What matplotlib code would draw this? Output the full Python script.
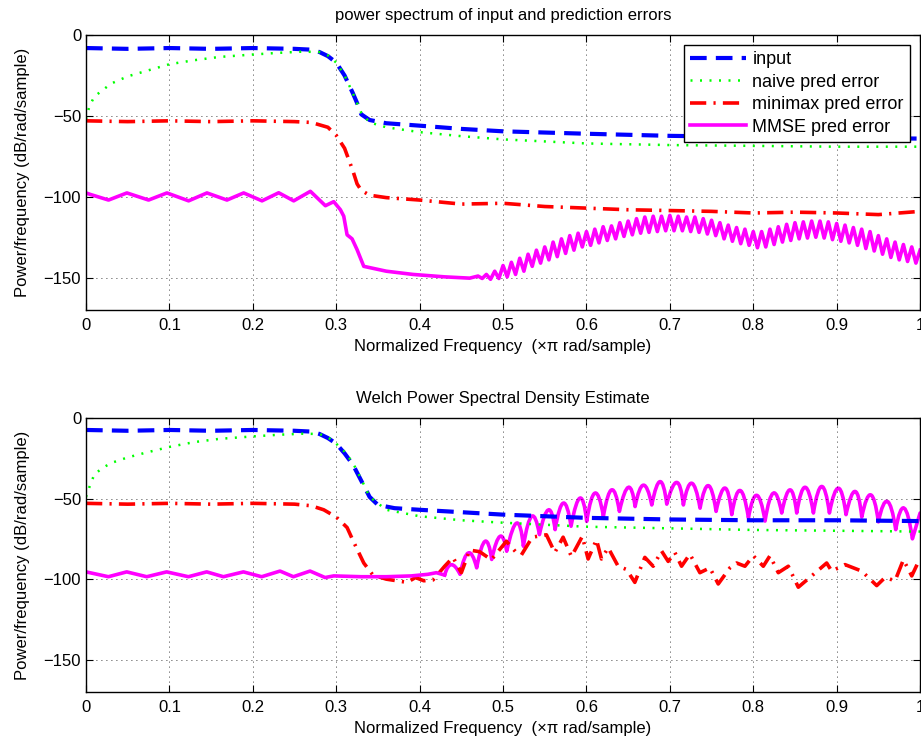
import numpy as np
import matplotlib
matplotlib.use('Agg')
import matplotlib.pyplot as plt
from matplotlib.path import Path
from matplotlib.patches import PathPatch

# ---------------- top panel: power spectrum of input and prediction errors
in1_x = [0, .05, .1, .15, .2, .25, .27, .28, .29, .30, .31, .32, .325, .33, .34, .36,
         .4, .45, .5, .6, .7, .8, .9, 1.0]
in1_y = [-8, -8.5, -8, -8.5, -8, -8.5, -9, -10.5, -13, -17, -25, -36, -42, -49, -52.5, -54.5,
         -56, -58, -59.5, -61, -62.3, -63, -63.5, -64]

nv1_x = [0, .004, .01, .02, .03, .05, .07, .1, .13, .16, .2, .23, .26, .28, .29, .30, .31,
         .32, .33, .34, .36, .4, .45, .5, .6, .7, .8, .9, 1.0]
nv1_y = [-52, -44, -38, -34, -30, -25.5, -22.5, -18, -15.5, -13.5, -12, -11, -10.2, -10.5,
         -12.5, -17, -25, -36, -48, -54, -57, -60, -62.5, -64.5, -67, -68, -68.5, -69, -69]

mm1_x = [0, .05, .1, .15, .2, .25, .27, .28, .29, .30, .31, .32, .325, .33, .34, .36, .4,
         .45, .5, .55, .6, .65, .7, .75, .8, .85, .9, .95, 1.0]
mm1_y = [-53, -53.5, -53, -53.5, -53, -53.5, -54, -55.5, -57, -62, -70, -84, -92, -96, -99,
         -100.5, -102, -104.5, -104, -106, -107, -108, -108.5, -109, -110, -109.5, -110,
         -111, -109]

ms1_x = [0, .005, .027, .049, .075, .097, .123, .145, .169, .189, .211, .231, .249, .269,
         .287, .297, .305, .309, .313, .319, .325, .333, .36, .392, .43, .46]
ms1_y = [-97.6, -98.5, -102, -97.6, -102, -97.6, -102.5, -97.6, -102, -97.6, -102.5, -97.5,
         -102.5, -96.6, -105.5, -103, -108, -112, -123.5, -126, -132.7, -143, -146, -148,
         -149.5, -150.3]
# ripple of the MMSE error above 0.47: crest values every 0.01, dips halfway between
ms1_peaks = [-149, -148, -146, -142.5, -140.5, -138, -135.5, -133, -131, -128, -126, -124,
             -122.5, -121.5, -120, -118.5, -118, -116, -115, -113.5, -112.5, -112, -112,
             -111.5, -112, -112.5, -112.5, -113.5, -114.5, -116, -117.5, -119, -120, -121.5,
             -121.5, -120, -118.5, -117, -116, -115.5, -115, -115, -115.5, -116.5, -117.5,
             -119, -120, -121.5, -124, -126, -128, -129.5, -131, -133]
ms1_dips = [-150.5, -151, -150.5, -149.5, -148, -146, -143, -141, -139, -137, -135, -133,
            -131, -130, -128.5, -127, -126, -124.5, -123.5, -122.5, -122, -121.5, -121, -121,
            -121, -121.5, -122, -123, -124, -126, -127.5, -129, -130, -131.5, -131, -129.5,
            -128, -127, -126, -125.5, -125, -125.5, -126.5, -127.5, -128.5, -130, -132,
            -133.5, -135.5, -137.5, -139, -140, -141]

# ---------------- bottom panel: Welch estimate
in2_x = [0, .05, .1, .15, .2, .25, .27, .28, .29, .30, .31, .32, .33, .34, .35, .37, .4,
         .45, .5, .6, .7, .8, .9, 1.0]
in2_y = [-7.5, -8, -7.5, -8, -7.5, -8, -8.5, -10, -12.5, -16, -22, -29, -39, -49, -54, -56,
         -57, -58.5, -60, -62, -63, -63.5, -63.5, -64]

nv2_x = [0, .004, .01, .02, .03, .05, .07, .1, .13, .16, .2, .23, .26, .28, .29, .30, .31,
         .32, .33, .34, .36, .4, .45, .5, .6, .7, .8, .9, 1.0]
nv2_y = [-49, -43, -35, -31, -28, -24.5, -21.8, -18, -15, -13, -11.5, -10.5, -9.8, -10,
         -12, -16, -21, -28, -38, -49, -57, -61, -63.5, -65, -67.5, -68.5, -69.5, -70, -70.5]

mm2_x = [0, .05, .1, .15, .2, .25, .27, .285, .30, .313, .32, .333, .344, .36, .385, .395,
         .405, .416, .43, .44, .45, .46, .472, .486, .504, .515, .522, .535, .552, .562,
         .572, .582, .595, .602, .612, .618, .626, .638, .648, .658, .670, .680, .690, .698,
         .706, .714, .724, .736, .748, .758, .772, .78, .79, .80, .812, .82, .83, .842,
         .854, .870, .888, .894, .91, .93, .948, .958, .97, .98, .99, 1.0]
mm2_y = [-53, -53.5, -53, -53.5, -53, -53.5, -54.5, -57, -61.5, -68, -76, -90, -97.5, -100,
         -102, -99, -101, -100.5, -92, -86.5, -96, -82, -83, -88, -76.5, -83, -85, -74,
         -72.5, -83.5, -74, -86, -73.5, -87.5, -75.5, -87.5, -80.5, -92, -94, -102, -86.5,
         -92, -82.5, -89, -83.5, -92, -84.5, -96, -93, -103, -93, -90, -92, -85.5, -92,
         -85.5, -96, -92, -105, -98, -90, -95, -91, -95, -104, -99, -101, -88, -98, -87]

# MMSE (Welch): smooth low part, then arches (dip, crest, dip, crest ...) from x = 0.43
ms2_x = [0, .0268, .0488, .0728, .0967, .1227, .1447, .1647, .1887, .2106, .2326, .2486,
         .2686, .2866, .297, .33, .36, .39, .41, .42, .43]
ms2_y = [-95.5, -98.5, -95.5, -98.5, -95.5, -98.5, -95.5, -98.5, -95.5, -98.5, -95, -98.5,
         -95, -99, -98, -98.5, -98.5, -98, -97, -96, -97.5]
arch_x = [.43, .438, .4484, .4584, .4684, .4784, .4864, .4964, .5044, .5164, .5244, .5344,
          .5436, .5544, .5624, .5724, .5815, .5923, .6003, .6103, .6203, .6303, .6395, .6503,
          .6583, .6683, .6783, .6883, .6963, .7082, .7162, .7262, .7362, .7462, .7554, .7662,
          .7742, .7842, .7942, .8042, .8141, .8241, .8341, .8441, .8521, .8621, .8721, .8821,
          .8913, .9021, .9112, .9221, .9301, .9408, .9500, .9608, .9708, .9808, .9908, 1.0]
arch_y = [-97.5, -91, -97, -83.7, -93, -76.5, -87.8, -73.4, -82.7, -65.2, -79.6, -61, -72.4,
          -57, -69.3, -52.8, -67.2, -49.7, -64.2, -46.6, -61, -44.6, -58, -43, -55, -41.7,
          -54, -39.5, -53.5, -40, -54, -40.5, -56, -42, -58, -43.5, -60, -45, -62, -48, -64,
          -46.6, -59, -44.6, -59, -43, -59, -42.5, -59, -43.6, -60, -45.6, -61.5, -47.7,
          -64.5, -51.8, -69.3, -55.9, -75, -59]

# stitch the top MMSE curve: smooth part then crest/dip ripple
peak_x = np.round(np.arange(0.47, 1.0001, 0.01), 3)
dip_x = peak_x[:-1] + 0.005
rip_x, rip_y = [], []
for i in range(len(peak_x)):
    rip_x.append(peak_x[i]); rip_y.append(ms1_peaks[i])
    if i < len(dip_x):
        rip_x.append(dip_x[i]); rip_y.append(ms1_dips[i])
ms1_full_x = ms1_x + rip_x
ms1_full_y = ms1_y + rip_y

plt.rcParams['font.family'] = ['Liberation Sans', 'DejaVu Sans']
fig = plt.figure(figsize=(9.21, 7.47), dpi=100)
ax1 = fig.add_axes([0.0934, 0.585, 0.9056, 0.368])
ax2 = fig.add_axes([0.0934, 0.0736, 0.9056, 0.367])

FS = 12

def draw(ax, ix, iy, nx, ny, mx, my, sx, sy):
    ax.plot(ix, iy, color=(0, 0, 1), lw=3, ls=(0, (4, 2.2)), label='input')
    ax.plot(nx, ny, color=(0, 1, 0), lw=1.8, ls=(0, (0.8, 3)), label='naive pred error')
    ax.plot(mx, my, color=(1, 0, 0), lw=2.6, ls=(0, (4.5, 2, 0.6, 2)), label='minimax pred error')
    ax.plot(sx, sy, color=(1, 0, 1), lw=2.6, label='MMSE pred error')
    ax.set_xlim(0, 1)
    ax.set_ylim(-170, 0)
    ax.set_xticks(np.arange(0, 1.01, 0.1))
    ax.set_xticklabels(['0', '0.1', '0.2', '0.3', '0.4', '0.5', '0.6', '0.7', '0.8', '0.9', '1'])
    ax.set_yticks([0, -50, -100, -150])
    ax.grid(True, color='black', linestyle=(0, (1, 5)), linewidth=0.6)
    ax.tick_params(direction='in', top=True, right=True, length=5, labelsize=FS)
    ax.tick_params(axis='x', pad=6)
    ax.set_xlabel('Normalized Frequency  (\u00d7\u03c0 rad/sample)', fontsize=FS, labelpad=4)
    ax.set_ylabel('Power/frequency (dB/rad/sample)', fontsize=FS, labelpad=10)
    for s in ax.spines.values():
        s.set_linewidth(1)

draw(ax1, in1_x, in1_y, nv1_x, nv1_y, mm1_x, mm1_y, ms1_full_x, ms1_full_y)
draw(ax2, in2_x, in2_y, nv2_x, nv2_y, mm2_x, mm2_y, ms2_x, ms2_y)

# arches of the Welch MMSE curve as quadratic curves through each crest
verts = [(arch_x[0], arch_y[0])]
codes = [Path.MOVETO]
i = 0
while i + 2 < len(arch_x):
    ax_, ay_ = arch_x[i], arch_y[i]
    px_, py_ = arch_x[i + 1], arch_y[i + 1]
    bx_, by_ = arch_x[i + 2], arch_y[i + 2]
    verts += [(2 * px_ - (ax_ + bx_) / 2, 2 * py_ - (ay_ + by_) / 2), (bx_, by_)]
    codes += [Path.CURVE3, Path.CURVE3]
    i += 2
for j in range(i + 1, len(arch_x)):
    verts.append((arch_x[j], arch_y[j]))
    codes.append(Path.LINETO)
ax2.add_patch(PathPatch(Path(verts, codes), fill=False, edgecolor=(1, 0, 1), lw=2.6,
                        joinstyle='round', capstyle='round'))

ax1.set_title('power spectrum of input and prediction errors', fontsize=FS, pad=11)
ax2.set_title('Welch Power Spectral Density Estimate', fontsize=FS, pad=11)

leg = ax1.legend(loc='upper right', bbox_to_anchor=(0.988, 0.964), borderaxespad=0,
                 fancybox=False, framealpha=1, edgecolor='black', fontsize=13,
                 handlelength=3.1, labelspacing=0.3, borderpad=0.35, handletextpad=0.35)
leg.get_frame().set_linewidth(1)

fig.savefig('out.png', dpi=100)
